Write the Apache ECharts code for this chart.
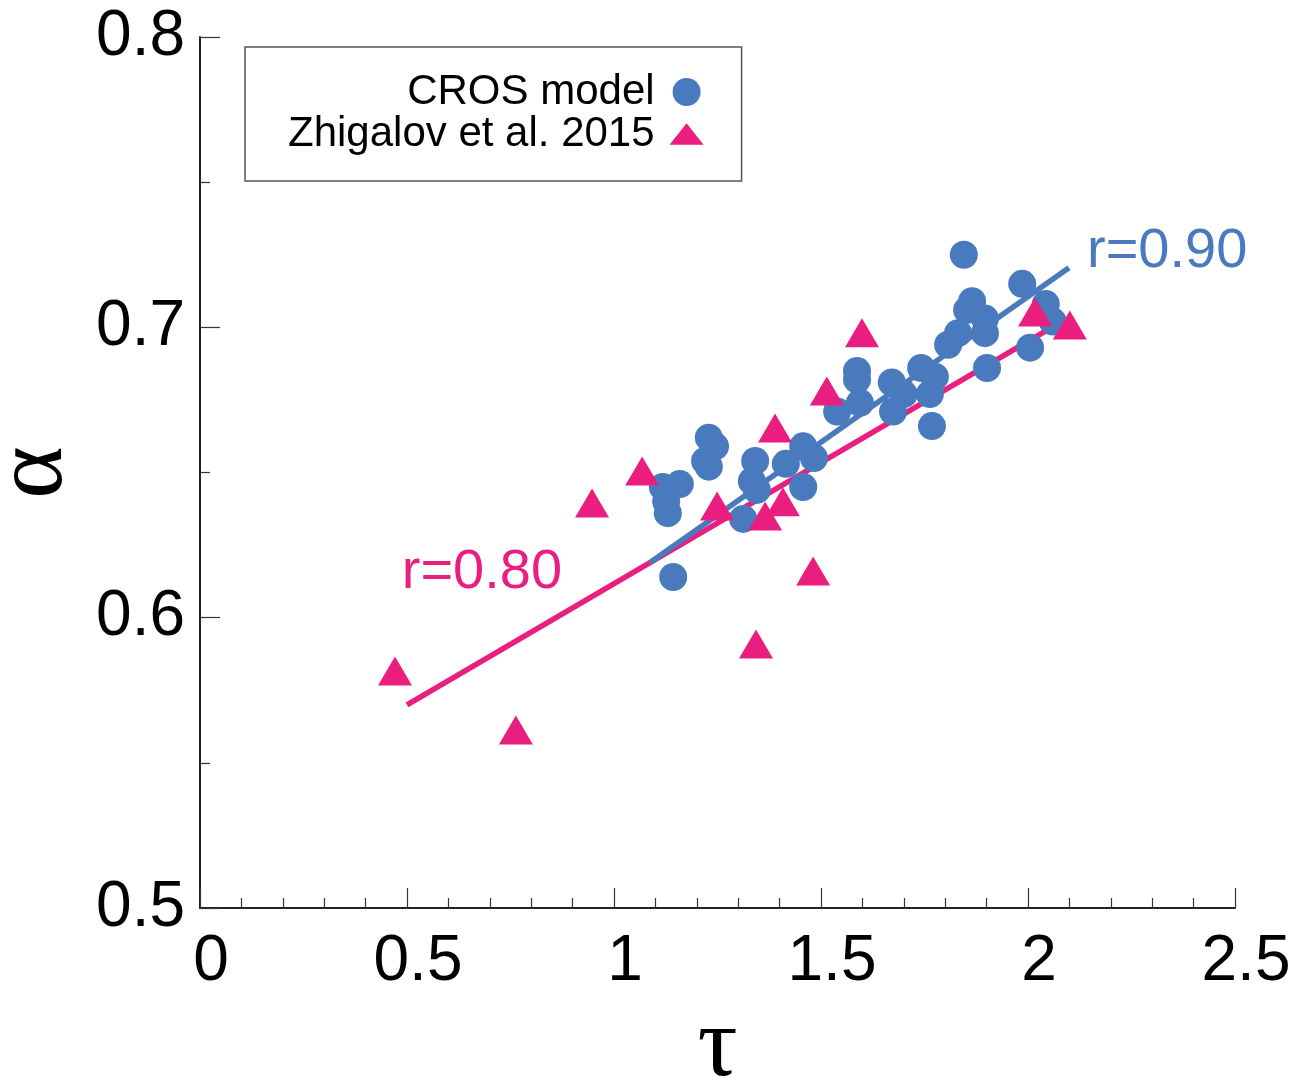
<!DOCTYPE html>
<html>
<head>
<meta charset="utf-8">
<script src="https://cdn.jsdelivr.net/npm/echarts@6/dist/echarts.min.js"></script>
<style>
html,body{margin:0;padding:0;background:#fff;}
#chart{width:1312px;height:1080px;}
</style>
</head>
<body>
<div id="chart"></div>
<script>
// CROS model (blue circles)
const crosTau   = [1.845,1.986,1.865,1.853,1.896,1.896,1.831,1.807,2.043,2.060,2.005,1.901,1.742,1.775,1.763,1.671,1.700,1.674,1.768,1.587,1.587,1.539,1.594,1.457,1.483,1.415,1.457,1.341,1.333,1.345,1.312,1.229,1.244,1.220,1.229,1.118,1.159,1.126,1.130,1.143];
const crosAlpha = [0.725,0.715,0.709,0.706,0.703,0.698,0.698,0.694,0.708,0.702,0.693,0.686,0.686,0.683,0.677,0.681,0.677,0.671,0.666,0.685,0.682,0.671,0.674,0.659,0.655,0.653,0.645,0.654,0.647,0.644,0.634,0.662,0.659,0.654,0.652,0.645,0.646,0.640,0.636,0.614];
// Zhigalov et al. 2015 (pink triangles)
const zhiTau   = [0.471,0.763,0.947,1.068,1.249,1.343,1.389,1.365,1.408,1.481,1.514,1.599,2.017,2.101];
const zhiAlpha = [0.5816,0.5613,0.6395,0.6505,0.6385,0.5909,0.6653,0.635,0.6399,0.6161,0.6781,0.6981,0.7053,0.7008];
// regression line end points
const crosFitTau = [1.087, 2.099];
const crosFitAlpha = [0.619, 0.7205];
const zhiFitTau = [0.5, 2.07];
const zhiFitAlpha = [0.570, 0.701];
// correlation labels
const crosR = 'r=0.90';
const zhiR = 'r=0.80';
const zhiRPos = [0.681, 0.6157];
// axis ticks
const xTicks = [0, 0.5, 1, 1.5, 2, 2.5];
const yTicks = [0.5, 0.6, 0.7, 0.8];

const BLUE = '#4a7abe';
const PINK = '#e91e7f';
const zip = (a, b) => a.map((v, i) => [v, b[i]]);
const triPath = 'path://M0,21L16.5,0L33,21Z';

const chart = echarts.init(document.getElementById('chart'), null, {renderer: 'canvas'});
const labelFont = {fontFamily: 'Liberation Sans', fontSize: 64, color: '#000'};

chart.setOption({
  animation: false,
  backgroundColor: '#fff',
  grid: {left: 200, right: 77, top: 37, bottom: 172, containLabel: false, outerBoundsMode: 'none'},
  legend: {
    left: 245, top: 47,
    orient: 'vertical',
    align: 'right',
    itemWidth: 34, itemHeight: 28, itemGap: 0,
    padding: [24, 38, 26, 43],
    borderColor: '#555', borderWidth: 1.5, borderRadius: 0,
    textStyle: {fontFamily: 'Liberation Sans', fontSize: 42, color: '#000', lineHeight: 42, padding: [0, 10, 0, 0]},
    data: [
      {name: 'CROS model', icon: 'circle'},
      {name: 'Zhigalov et al. 2015', icon: triPath}
    ]
  },
  xAxis: {
    type: 'value', min: xTicks[0], max: xTicks[xTicks.length - 1], interval: 0.5,
    name: 'τ', nameLocation: 'middle', nameGap: 77,
    nameTextStyle: {fontFamily: 'Liberation Serif', fontSize: 100, color: '#000'},
    axisLine: {show: true, onZero: false, lineStyle: {color: '#222', width: 2}},
    axisTick: {show: true, inside: true, length: 20, lineStyle: {color: '#333', width: 1.2}},
    minorTick: {show: true, splitNumber: 5, length: 10, lineStyle: {color: '#333', width: 1.2}},
    splitLine: {show: false},
    axisLabel: Object.assign({margin: 22, padding: [0, 0, 0, 22], formatter: v => String(v)}, labelFont)
  },
  yAxis: {
    type: 'value', min: yTicks[0], max: yTicks[yTicks.length - 1], interval: 0.1,
    name: 'α', nameLocation: 'middle', nameGap: 115, nameRotate: 90,
    nameTextStyle: {fontFamily: 'Liberation Serif', fontSize: 100, color: '#000'},
    axisLine: {show: true, onZero: false, lineStyle: {color: '#222', width: 2}},
    axisTick: {show: true, inside: true, length: 20, lineStyle: {color: '#333', width: 1.2}},
    minorTick: {show: true, splitNumber: 2, length: 10, lineStyle: {color: '#333', width: 1.2}},
    splitLine: {show: false},
    axisLabel: Object.assign({margin: 15, formatter: v => v.toFixed(1)}, labelFont)
  },
  series: [
    {
      name: 'zhiFit', type: 'line', data: zip(zhiFitTau, zhiFitAlpha),
      symbol: 'none', silent: true, z: 1,
      lineStyle: {color: PINK, width: 5.5},
      markPoint: {
        symbol: 'circle', symbolSize: 0,
        label: {show: true, position: 'inside', formatter: zhiR, color: PINK, fontFamily: 'Liberation Sans', fontSize: 56},
        data: [{coord: zhiRPos}]
      }
    },
    {
      name: 'crosFit', type: 'line', data: zip(crosFitTau, crosFitAlpha),
      symbol: 'none', silent: true, z: 2,
      lineStyle: {color: BLUE, width: 5.5},
      endLabel: {show: true, formatter: crosR, color: BLUE, fontFamily: 'Liberation Sans', fontSize: 56, distance: 18, offset: [0, -16]}
    },
    {
      name: 'CROS model', type: 'scatter', data: zip(crosTau, crosAlpha),
      symbol: 'circle', symbolSize: 28, z: 3,
      itemStyle: {color: BLUE, opacity: 1}
    },
    {
      name: 'Zhigalov et al. 2015', type: 'scatter', data: zip(zhiTau, zhiAlpha),
      symbol: 'triangle', symbolSize: [34, 29], z: 4,
      itemStyle: {color: PINK, opacity: 1}
    }
  ]
});
</script>
</body>
</html>
